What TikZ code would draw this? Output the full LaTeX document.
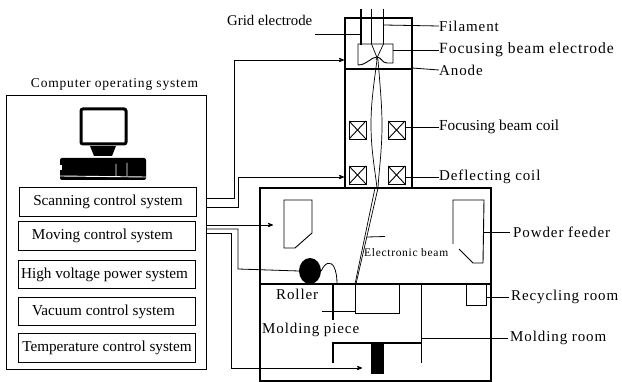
\documentclass[tikz,border=0pt]{standalone}
\usepackage{fontspec}
\setmainfont{Liberation Serif}
\newfontfamily\widefont[LetterSpace=6]{Liberation Serif}
\usetikzlibrary{arrows, shapes.geometric}
\tikzset{x=1pt, y=-1pt, % One unit is one pixel of the page
every node/.style={inner sep=0pt},
partline/.style={draw, line width=0.9pt},
heavyline/.style={draw, line width=1.3pt},
wire/.style={draw, line width=0.8pt},
arrowwire/.style={wire, ->, >=stealth'},
leader/.style={draw, line width=0.8pt},
partlabel/.style={anchor=west, font=\widefont\fontsize{15}{17}\selectfont},
plainlabel/.style={anchor=west, font=\fontsize{15.3}{17}\selectfont},
systembox/.style={draw, line width=0.9pt, minimum width=177pt, minimum height=28.5pt, font=\fontsize{15.2}{17}\selectfont},
coilbox/.style={draw, line width=0.9pt, minimum width=17pt, minimum height=18pt,
path picture={\draw (path picture bounding box.south west) -- (path picture bounding box.north east)
(path picture bounding box.north west) -- (path picture bounding box.south east);}}}

\begin{document}
\begin{tikzpicture}
    \useasboundingbox (0,0) rectangle (622,382);

    % computer side
    \node[draw, line width=0.9pt, minimum width=200pt, minimum height=274pt] (computer) at (106,232) {};
    \node[font=\widefont\fontsize{13.5}{15}\selectfont] (computertext) at (114.5,84) {Computer operating system};
    \node[systembox] (scanning) at (108,202) {Scanning control system};
    \node[systembox] (moving) at (107,236) {\hspace*{-9pt}Moving control system};
    \node[systembox] (highvoltage) at (107,274.5) {\hspace*{-5pt}High voltage power system};
    \node[systembox] (vacuum) at (107,311.5) {\hspace*{-7pt}Vacuum control system};
    \node[systembox] (temperature) at (107,348) {Temperature control system};

    % monitor and base
    \draw[line width=3pt, rounded corners=2pt] (81,109) rectangle (126,144);
    \fill (90,146) -- (116,146) -- (112,156) -- (94,156) -- cycle;
    \fill[rounded corners=2pt] (60,158) rectangle (146,180);
    \fill[white] (59,165) rectangle (62,170);
    \draw[white, line width=0.9pt] (116,164) -- (116,176) (127,163) -- (127,176) (60,176) -- (146,177);

    % electron gun and column
    \node[heavyline, minimum width=67pt, minimum height=51pt] (gun) at (378.5,43.5) {};
    \node[heavyline, minimum width=67pt, minimum height=119pt] (column) at (378.5,128.5) {};
    \draw[heavyline] (361,9) -- (361,45) (371.5,9) -- (371.5,44) (383.5,9) -- (383.5,44);
    \draw[partline] (358,65) -- (358,44) -- (393,44) -- (393,63) -- (387,63)
        .. controls (382,63) and (381,57) .. (377,57) .. controls (371,57) and (367,65) .. (358,65);
    \draw[line width=0.7pt] (371.5,44) -- (378,60) (383.5,44) -- (376,60);
    \draw[line width=0.7pt] (377,60) .. controls (373,90) and (371,105) .. (371,125) .. controls (371,150) and (375,170) .. (377,188);
    \draw[line width=0.7pt] (378,60) .. controls (380,85) and (382,105) .. (382,125) .. controls (382,150) and (379,170) .. (378,188);
    \node[coilbox] (focusleft) at (357.5,130) {};
    \node[coilbox] (focusright) at (396.5,130) {};
    \node[coilbox] (deflectleft) at (357.5,175) {};
    \node[coilbox] (deflectright) at (396.5,175) {};

    % chamber
    \node[heavyline, minimum width=231pt, minimum height=193pt] (chamber) at (375.5,284.5) {};
    \draw[heavyline] (chamber.west |- 0,284) -- (chamber.east |- 0,284);
    \draw[partline] (284,200) -- (312,200) -- (312,233) -- (295,248) -- (284,248) -- cycle;
    \draw[partline] (453,244) -- (453,200) -- (484,200) -- (483,263) -- (473,263) -- (459,249);
    \draw[line width=0.7pt] (375,188) -- (355,284);
    \draw[line width=0.7pt] (378,188) -- (356,284);
    \node[fill, ellipse, minimum width=22pt, minimum height=26pt] (rollerball) at (310,271) {};
    \draw[line width=0.8pt] (rollerball.east) .. controls (325,262) and (331,261) .. (334,267) .. controls (336,271) and (337,277) .. (337,283);

    % molding room
    \draw[heavyline] (333,284) -- (333,320) (333,363) -- (333,343) -- (421.7,343) (421.7,284) -- (421.7,363);
    \draw[partline] (355,284) -- (355,313) -- (399,313) -- (399,284);
    \fill (371,343) rectangle (384,374);
    \draw[partline] (466,284) -- (466,305) -- (486,305) -- (486,284);

    % labels
    \node[plainlabel, font=\fontsize{14.8}{17}\selectfont] (grid) at (227,20) {Grid electrode};
    \node[partlabel] (filament) at (439,26) {Filament};
    \node[partlabel, font=\widefont\fontsize{15.6}{17}\selectfont] (focusing) at (439,50) {Focusing beam electrode};
    \node[partlabel] (anode) at (439,70) {Anode};
    \node[plainlabel] (focuscoil) at (439,127) {Focusing beam coil};
    \node[partlabel] (deflectcoil) at (439,177) {Deflecting coil};
    \node[partlabel] (powder) at (513,232) {Powder feeder};
    \node[partlabel] (recycling) at (511,297) {Recycling room};
    \node[partlabel] (moldroom) at (510,338) {Molding room};
    \node[partlabel] (roller) at (276,294) {Roller};
    \node[partlabel] (moldpiece) at (262,330) {Molding piece};
    \node[anchor=west, font=\widefont\fontsize{11.5}{13}\selectfont] (beam) at (364,253) {Electronic beam};

    % leaders
    \coordinate (gridend) at (361,34);
    \coordinate (gridstart) at (315,34);
    \coordinate (filamentend) at (384,25);
    \coordinate (focusingend) at (393,50);
    \coordinate (anodeend) at (412,68);
    \coordinate (powderend) at (484,232);
    \coordinate (recyclingend) at (486,297);
    \coordinate (moldroomend) at (421.7,338);
    \coordinate (beamend) at (367,237);
    \coordinate (beamstart) at (385,236.5);
    \coordinate (piecestart) at (321.7,311);
    \coordinate (pieceend) at (355,311);
    \draw[leader] (gridstart) -- (gridend);
    \draw[leader] (filament.west) -- (filamentend);
    \draw[leader] (focusing.west) -- (focusingend);
    \draw[leader] (anode.west) -- (anodeend);
    \draw[leader] (focuscoil.west) -- (focusright.east |- focuscoil.west);
    \draw[leader] (deflectcoil.west) -- (deflectright.east |- deflectcoil.west);
    \draw[leader] (powder.west) ++(-3,0) -- (powderend);
    \draw[leader] (recycling.west) ++(-2,0) -- (recyclingend);
    \draw[leader] (moldroom.west) ++(-2,0) -- (moldroomend);
    \draw[leader] (beamstart) -- (beamend);
    \draw[leader] (piecestart) -- (pieceend);

    % wires
    \coordinate (scanouta) at (207,198);
    \coordinate (scanoutb) at (207,207);
    \coordinate (moveouta) at (207,225);
    \coordinate (moveoutb) at (207,229);
    \coordinate (moveoutc) at (207,233);
    \coordinate (guntip) at (344,60);
    \coordinate (coiltip) at (344,177);
    \coordinate (feedertip) at (273,225);
    \coordinate (pistontip) at (362,368);
    \draw[arrowwire] (scanouta) -- (234,198) -- (234,60) -- (guntip);
    \draw[arrowwire] (scanoutb) -- (238,207) -- (238,177) -- (coiltip);
    \draw[arrowwire] (moveouta) -- (feedertip);
    \draw[wire] (moveoutb) -- (238,229) -- (238,269) -- (rollerball.west);
    \draw[arrowwire] (moveoutc) -- (231,233) -- (231,368) -- (pistontip);

\end{tikzpicture}
\end{document}
